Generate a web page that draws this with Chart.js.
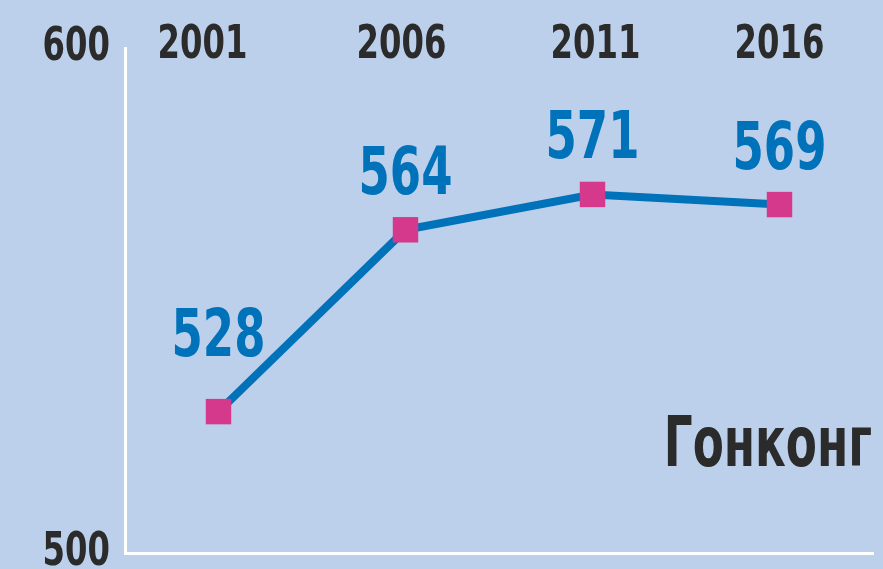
<!DOCTYPE html>
<html>
<head>
<meta charset="utf-8">
<script src="https://cdn.jsdelivr.net/npm/chart.js@4/dist/chart.umd.min.js"></script>
<style>
  html, body { margin: 0; padding: 0; background: #bdd0eb; overflow: hidden; }
  #wrap { width: 883px; height: 569px; }
</style>
</head>
<body>
<div id="wrap"><canvas id="chart"></canvas></div>
<script>
const years = ['2001', '2006', '2011', '2016'];
const values = [528, 564, 571, 569];
const yTicks = [500, 600];
const regionName = 'Гонконг';

const FONT = "'DejaVu Sans Condensed', 'DejaVu Sans', sans-serif";
const DARK = '#2b2b2b';
const BLUE = '#0072b9';
const PINK = '#d4398c';

// condensed look: squeeze text horizontally
function squeezed(ctx, text, x, y, align, sx) {
  ctx.save();
  ctx.translate(x, y);
  ctx.scale(sx, 1);
  ctx.textAlign = align;
  ctx.textBaseline = 'alphabetic';
  ctx.fillText(text, 0, 0);
  ctx.restore();
}

const noPad = (scale) => {
  scale.paddingTop = 0;
  scale.paddingBottom = 0;
  scale.paddingLeft = 0;
  scale.paddingRight = 0;
};

// labels drawn on top of the chart (axis values, years, values, region name)
const textPlugin = {
  id: 'texts',
  afterDatasetsDraw(chart) {
    const ctx = chart.ctx;
    const meta = chart.getDatasetMeta(0);
    const xScale = chart.scales.x;
    const yScale = chart.scales.y;
    const yearNudge = [-16, -4, 3, 0];
    ctx.save();

    ctx.fillStyle = DARK;
    ctx.font = 'bold 46px ' + FONT;
    yTicks.forEach((v) => {
      squeezed(ctx, String(v), 110, yScale.getPixelForValue(v) + 12, 'right', 0.78);
    });
    years.forEach((y, i) => {
      squeezed(ctx, y, xScale.getPixelForValue(i) + yearNudge[i], 58, 'center', 0.78);
    });

    ctx.fillStyle = BLUE;
    ctx.font = 'bold 65px ' + FONT;
    meta.data.forEach((pt, i) => {
      const lift = i === 0 ? 56 : 36;
      squeezed(ctx, String(values[i]), pt.x, pt.y - lift, 'center', 0.77);
    });

    ctx.fillStyle = DARK;
    ctx.font = 'bold 69px ' + FONT;
    squeezed(ctx, regionName, chart.chartArea.right - 1, 466, 'right', 0.73);
    ctx.restore();
  }
};

new Chart(document.getElementById('chart'), {
  type: 'line',
  data: {
    labels: years,
    datasets: [{
      data: values,
      borderColor: BLUE,
      borderWidth: 8,
      tension: 0,
      pointStyle: 'rect',
      pointRadius: 18,
      pointHoverRadius: 18,
      pointBackgroundColor: PINK,
      pointBorderWidth: 0
    }]
  },
  options: {
    responsive: true,
    maintainAspectRatio: false,
    animation: false,
    layout: { autoPadding: false, padding: { top: 48, right: 10, left: 0, bottom: 0 } },
    plugins: {
      legend: { display: false },
      tooltip: { enabled: false }
    },
    scales: {
      x: {
        offset: true,
        afterFit: (scale) => { scale.height = 16; noPad(scale); },
        ticks: { display: false },
        grid: { drawOnChartArea: false, drawTicks: false },
        border: { display: true, color: '#ffffff', width: 3 }
      },
      y: {
        min: 500,
        max: 600,
        afterFit: (scale) => { scale.width = 125; noPad(scale); },
        afterBuildTicks: (scale) => {
          scale.ticks = yTicks.map((v) => ({ value: v }));
        },
        ticks: { display: false },
        grid: { drawOnChartArea: false, drawTicks: false },
        border: { display: true, color: '#ffffff', width: 3 }
      }
    }
  },
  plugins: [textPlugin]
});
</script>
</body>
</html>
